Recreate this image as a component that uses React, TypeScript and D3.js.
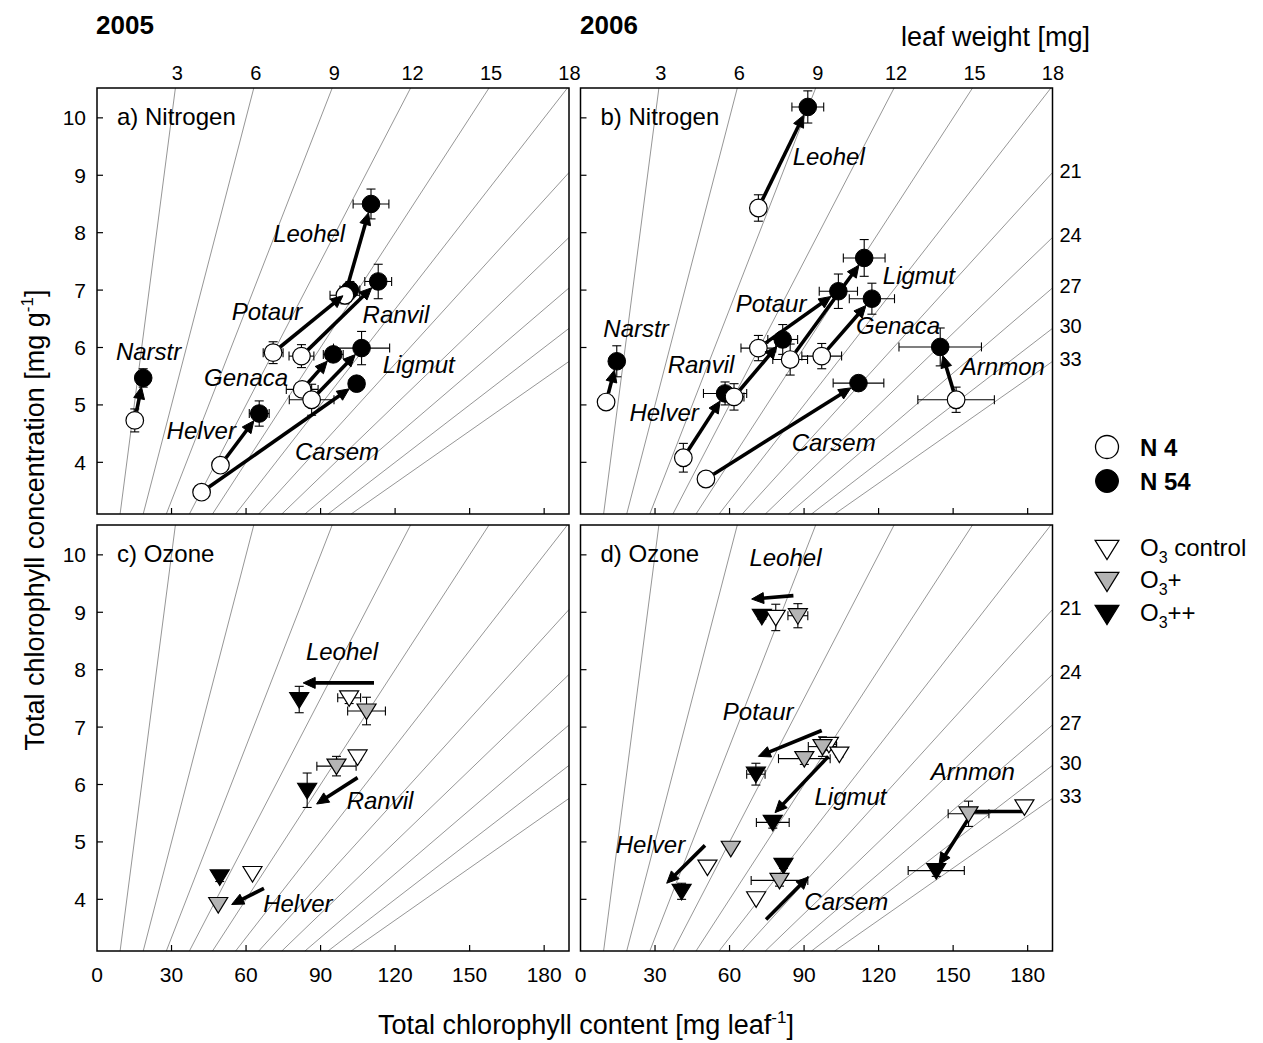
import * as d3 from "d3";

const WIDTH = 1263;
const HEIGHT = 1043;
const PANEL_W = 472;
const PANEL_H = 426;
const FONT = "'Liberation Sans', Arial, sans-serif";

const X_DOMAIN = [0, 190];
const Y_DOMAIN = [3.1, 10.52];

// leaf weight isolines: content = weight * concentration
const weightLines = [3, 6, 9, 12, 15, 18, 21, 24, 27, 30, 33];
const topWeightLabels = [3, 6, 9, 12, 15, 18];
const rightWeightLabels = [21, 24, 27, 30, 33];
const xTicks = [0, 30, 60, 90, 120, 150, 180];
const yTicks = [4, 5, 6, 7, 8, 9, 10];

// nitrogen: [x, y, errX, errY] for N 4 and N 54
const nitrogen2005 = [
  { sp: "Narstr", n4: [15.2, 4.73, 0, 0.2], n54: [18.6, 5.47, 0, 0.16] },
  { sp: "Leohel", n4: [99.8, 6.91, 6, 0.15], n54: [110.3, 8.5, 7.2, 0.26] },
  { sp: "Potaur", n4: [70.9, 5.91, 4, 0.19], n54: [101.8, 7.0, 4, 0.15] },
  { sp: "Ranvil", n4: [82.3, 5.85, 5, 0.2], n54: [113.2, 7.15, 5.4, 0.3] },
  { sp: "Genaca", n4: [82.6, 5.27, 6.4, 0.1], n54: [95.1, 5.88, 4, 0.12] },
  { sp: "Ligmut", n4: [86.4, 5.09, 9, 0.27], n54: [106.5, 5.99, 11.3, 0.29] },
  { sp: "Helver", n4: [49.7, 3.95, 3, 0.05], n54: [65.3, 4.85, 4, 0.22] },
  { sp: "Carsem", n4: [42.1, 3.48, 1, 0.03], n54: [104.5, 5.37, 3, 0.1] },
];

const nitrogen2006 = [
  { sp: "Leohel", n4: [71.6, 8.43, 1, 0.23], n54: [91.5, 10.19, 6.4, 0.28] },
  { sp: "Narstr", n4: [10.3, 5.05, 0, 0.05], n54: [14.6, 5.76, 0, 0.27] },
  { sp: "Potaur", n4: [71.6, 5.99, 7, 0.22], n54: [103.8, 6.98, 7.7, 0.3] },
  { sp: "Ligmut", n4: [84.4, 5.79, 7, 0.27], n54: [114.2, 7.56, 8.4, 0.32] },
  { sp: "Ranvil", n4: [61.8, 5.14, 4, 0.23], n54: [81.4, 6.14, 6, 0.26] },
  { sp: "Genaca", n4: [97.1, 5.85, 8, 0.22], n54: [117.3, 6.85, 9.1, 0.27] },
  { sp: "Helver", n4: [41.4, 4.08, 1, 0.25], n54: [58.2, 5.2, 8.7, 0.2] },
  { sp: "Carsem", n4: [50.5, 3.71, 1.5, 0.05], n54: [111.9, 5.38, 10.2, 0.1] },
  { sp: "Arnmon", n4: [151.2, 5.09, 15.4, 0.22], n54: [144.8, 6.01, 16.6, 0.33] },
];

// ozone: [x, y, errX, errY] for control, O3+, O3++
const ozone2005 = [
  { sp: "Leohel", ctrl: [101.5, 7.51, 4.6, 0.1], plus: [108.5, 7.28, 7.6, 0.24], pp: [81.4, 7.48, 0, 0.23] },
  { sp: "Ranvil", ctrl: [104.9, 6.48, 0, 0.05], plus: [96.4, 6.32, 7.9, 0.17], pp: [84.6, 5.9, 0, 0.3] },
  { sp: "Helver", ctrl: [62.6, 4.45, 1, 0.03], plus: [48.8, 3.91, 0, 0], pp: [49.4, 4.39, 0, 0.08] },
];

const ozone2006 = [
  { sp: "Leohel", ctrl: [78.6, 8.91, 0, 0.23], plus: [87.5, 8.94, 4, 0.21], pp: [73.0, 8.93, 0, 0.05] },
  { sp: "Potaur", ctrl: [100.0, 6.7, 3, 0.1], plus: [97.4, 6.66, 5.7, 0.17], pp: [70.6, 6.18, 3.7, 0.19] },
  { sp: "Ligmut", ctrl: [104.2, 6.53, 1, 0.05], plus: [90.1, 6.45, 10.4, 0.1], pp: [77.4, 5.34, 6.6, 0.1] },
  { sp: "Helver", ctrl: [51.1, 4.56, 0, 0.03], plus: [60.5, 4.89, 0, 0], pp: [40.7, 4.14, 0, 0.14] },
  { sp: "Carsem", ctrl: [70.7, 4.01, 0, 0.03], plus: [80.1, 4.33, 11.4, 0.1], pp: [81.7, 4.59, 0, 0.05] },
  { sp: "Arnmon", ctrl: [178.7, 5.61, 1, 0.03], plus: [156.2, 5.49, 8.2, 0.22], pp: [143.2, 4.5, 11.3, 0.1] },
];

// ozone annotation arrows (data coords, last point is the tip)
const ozoneArrows2005 = [
  [[111.5, 7.77], [83.0, 7.77]],
  [[104.9, 6.12], [88.4, 5.66]],
  [[67.2, 4.19], [54.2, 3.91]],
];
const ozoneArrows2006 = [
  [[85.7, 9.29], [68.9, 9.23]],
  [[97.1, 6.94], [71.6, 6.49]],
  [[99.8, 6.49], [78.3, 5.51]],
  [[50.1, 4.94], [34.7, 4.28]],
  [[74.7, 3.65], [91.7, 4.39]],
  [[178.5, 5.53], [158.0, 5.53], [144.3, 4.6]],
];

// species labels: [name, x, y] (left edge / baseline, data units)
const labelsA = [
  ["Narstr", 7.6, 5.78], ["Leohel", 70.9, 7.84], ["Potaur", 54.2, 6.48], ["Ranvil", 106.9, 6.42],
  ["Genaca", 43.1, 5.33], ["Ligmut", 115.0, 5.56], ["Helver", 28.0, 4.41], ["Carsem", 79.7, 4.04],
];
const labelsB = [
  ["Leohel", 85.4, 9.18], ["Narstr", 9.2, 6.18], ["Potaur", 62.5, 6.62], ["Ligmut", 121.7, 7.1],
  ["Genaca", 110.9, 6.24], ["Ranvil", 35.1, 5.55], ["Helver", 19.7, 4.72], ["Arnmon", 153.1, 5.52],
  ["Carsem", 85.0, 4.2],
];
const labelsC = [["Leohel", 84.1, 8.16], ["Ranvil", 100.5, 5.58], ["Helver", 66.9, 3.78]];
const labelsD = [
  ["Leohel", 68.0, 9.8], ["Potaur", 57.3, 7.12], ["Ligmut", 94.2, 5.65], ["Arnmon", 141.0, 6.08],
  ["Helver", 14.2, 4.8], ["Carsem", 90.1, 3.82],
];

const GRAY = "#b4b4b4";
const TRI = "M-9.5,-7L9.5,-7L0,8.5Z";

const x = d3.scaleLinear().domain(X_DOMAIN).range([0, PANEL_W]);
const y = d3.scaleLinear().domain(Y_DOMAIN).range([PANEL_H, 0]);
const line = d3.line();

function arrow(pts, key, shortenStart = 0, shortenEnd = 0) {
  const p = pts.map((d) => [x(d[0]), y(d[1])]);
  const n = p.length;
  // optional shortening (nitrogen arrows stop at circle edges)
  const s0 = p[0], s1 = p[1];
  const l0 = Math.hypot(s1[0] - s0[0], s1[1] - s0[1]);
  p[0] = [s0[0] + ((s1[0] - s0[0]) / l0) * shortenStart, s0[1] + ((s1[1] - s0[1]) / l0) * shortenStart];
  const a = p[n - 2], b = p[n - 1];
  const len = Math.hypot(b[0] - a[0], b[1] - a[1]);
  const ux = (b[0] - a[0]) / len, uy = (b[1] - a[1]) / len;
  const tip = [b[0] - ux * shortenEnd, b[1] - uy * shortenEnd];
  const headLen = 12, headW = 5.5;
  const base = [tip[0] - ux * headLen, tip[1] - uy * headLen];
  const shaft = [...p.slice(0, n - 1), [base[0] + ux * 2, base[1] + uy * 2]];
  const head = [tip, [base[0] - uy * headW, base[1] + ux * headW], [base[0] + uy * headW, base[1] - ux * headW]];
  return (
    <g key={key}>
      <path d={line(shaft)} fill="none" stroke="#000" strokeWidth={3.6} strokeLinejoin="round" />
      <path d={line(head) + "Z"} fill="#000" stroke="#000" strokeWidth={1} strokeLinejoin="miter" />
    </g>
  );
}

function errorBars(v, key) {
  const [vx, vy, ex, ey] = v;
  const cx = x(vx), cy = y(vy);
  const c = 4.5;
  return (
    <g key={key} stroke="#000" strokeWidth={1.1}>
      {ex > 0 && (
        <>
          <line x1={x(vx - ex)} x2={x(vx + ex)} y1={cy} y2={cy} />
          <line x1={x(vx - ex)} x2={x(vx - ex)} y1={cy - c} y2={cy + c} />
          <line x1={x(vx + ex)} x2={x(vx + ex)} y1={cy - c} y2={cy + c} />
        </>
      )}
      {ey > 0 && (
        <>
          <line x1={cx} x2={cx} y1={y(vy - ey)} y2={y(vy + ey)} />
          <line x1={cx - c} x2={cx + c} y1={y(vy - ey)} y2={y(vy - ey)} />
          <line x1={cx - c} x2={cx + c} y1={y(vy + ey)} y2={y(vy + ey)} />
        </>
      )}
    </g>
  );
}

function Panel({ left, top, title, yLabels, xLabels, topLabels, rightLabels, children, labels }) {
  const [x0, x1] = X_DOMAIN;
  const [y0, y1] = Y_DOMAIN;
  return (
    <g transform={`translate(${left},${top})`}>
      {weightLines.map((w) => {
        const end = w * y1 <= x1 ? [w * y1, y1] : [x1, x1 / w];
        return (
          <line key={w} x1={x(w * y0)} y1={y(y0)} x2={x(end[0])} y2={y(end[1])} stroke="#8a8a8a" strokeWidth={0.9} />
        );
      })}
      {topLabels &&
        topWeightLabels.map((w) => (
          <text key={w} x={x(w * y1) + 2} y={-8} textAnchor="middle" fontSize={20}>
            {w}
          </text>
        ))}
      {rightLabels &&
        rightWeightLabels.map((w) => (
          <text key={w} x={PANEL_W + 7} y={y(x1 / w) - 2} dy="0.35em" fontSize={20}>
            {w}
          </text>
        ))}
      {yTicks.map((t) => (
        <line key={t} x1={0} x2={6} y1={y(t)} y2={y(t)} stroke="#000" strokeWidth={1.2} />
      ))}
      {xTicks.slice(1).map((t) => (
        <line key={t} x1={x(t)} x2={x(t)} y1={PANEL_H} y2={PANEL_H - 6} stroke="#000" strokeWidth={1.2} />
      ))}
      {yLabels &&
        yTicks.map((t) => (
          <text key={t} x={-11} y={y(t)} dy="0.36em" textAnchor="end" fontSize={21}>
            {t}
          </text>
        ))}
      {xLabels &&
        xTicks.map((t) => (
          <text key={t} x={x(t)} y={PANEL_H + 31} textAnchor="middle" fontSize={21}>
            {t}
          </text>
        ))}
      {children}
      {labels.map(([name, lx, ly]) => (
        <text key={name} x={x(lx)} y={y(ly)} fontSize={24} fontStyle="italic">
          {name}
        </text>
      ))}
      <text x={20} y={37} fontSize={24}>
        {title}
      </text>
      <rect x={0} y={0} width={PANEL_W} height={PANEL_H} fill="none" stroke="#000" strokeWidth={1.5} />
    </g>
  );
}

function NitrogenMarks({ rows }) {
  return (
    <g>
      {rows.map((r) => errorBars(r.n54, r.sp + "e54"))}
      {rows.map((r) => errorBars(r.n4, r.sp + "e4"))}
      {rows.map((r) => (
        <circle key={r.sp + "c54"} cx={x(r.n54[0])} cy={y(r.n54[1])} r={8.8} fill="#000" stroke="#000" />
      ))}
      {rows.map((r) => (
        <circle key={r.sp + "c4"} cx={x(r.n4[0])} cy={y(r.n4[1])} r={8.8} fill="#fff" stroke="#000" strokeWidth={1.2} />
      ))}
      {rows.map((r) => arrow([r.n4, r.n54], r.sp + "a", 9, 9))}
    </g>
  );
}

function OzoneMarks({ rows, arrows }) {
  const tri = (v, fill, key) => (
    <path key={key} d={TRI} transform={`translate(${x(v[0])},${y(v[1])})`} fill={fill} stroke="#000" strokeWidth={1.2} />
  );
  return (
    <g>
      {arrows.map((a, i) => arrow(a, "oa" + i))}
      {rows.map((r) => errorBars(r.pp, r.sp + "epp"))}
      {rows.map((r) => errorBars(r.ctrl, r.sp + "ec"))}
      {rows.map((r) => errorBars(r.plus, r.sp + "ep"))}
      {rows.map((r) => tri(r.pp, "#000", r.sp + "pp"))}
      {rows.map((r) => tri(r.ctrl, "#fff", r.sp + "c"))}
      {rows.map((r) => tri(r.plus, GRAY, r.sp + "p"))}
    </g>
  );
}

function O3({ x: tx, y: ty, suffix }) {
  return (
    <text x={tx} y={ty} fontSize={24}>
      O<tspan dy={7} fontSize={16}>3</tspan>
      <tspan dy={-7}>{suffix}</tspan>
    </text>
  );
}

export default function App() {
  return (
    <svg
      width={WIDTH}
      height={HEIGHT}
      style={{ position: "absolute", left: 0, top: 0, background: "#fff" }}
      fontFamily={FONT}
    >
      <rect width={WIDTH} height={HEIGHT} fill="#fff" />
      <text x={96} y={34} fontSize={26} fontWeight="bold">2005</text>
      <text x={580} y={34} fontSize={26} fontWeight="bold">2006</text>
      <text x={1090} y={46} fontSize={27} textAnchor="end">leaf weight [mg]</text>

      <Panel left={97} top={88} title="a) Nitrogen" yLabels topLabels labels={labelsA}>
        <NitrogenMarks rows={nitrogen2005} />
      </Panel>
      <Panel left={580.5} top={88} title="b) Nitrogen" topLabels rightLabels labels={labelsB}>
        <NitrogenMarks rows={nitrogen2006} />
      </Panel>
      <Panel left={97} top={525} title="c) Ozone" yLabels xLabels labels={labelsC}>
        <OzoneMarks rows={ozone2005} arrows={ozoneArrows2005} />
      </Panel>
      <Panel left={580.5} top={525} title="d) Ozone" xLabels rightLabels labels={labelsD}>
        <OzoneMarks rows={ozone2006} arrows={ozoneArrows2006} />
      </Panel>

      <text transform="translate(44,520) rotate(-90)" textAnchor="middle" fontSize={27}>
        Total chlorophyll concentration [mg g<tspan dy={-11} fontSize={17}>-1</tspan>
        <tspan dy={11}>]</tspan>
      </text>
      <text x={586} y={1034} textAnchor="middle" fontSize={27}>
        Total chlorophyll content [mg leaf<tspan dy={-11} fontSize={17}>-1</tspan>
        <tspan dy={11}>]</tspan>
      </text>

      {/* legend */}
      <circle cx={1107} cy={447} r={11.5} fill="#fff" stroke="#000" strokeWidth={1.3} />
      <circle cx={1107} cy={481} r={11.5} fill="#000" stroke="#000" />
      <text x={1140} y={456} fontSize={24} fontWeight="bold">N 4</text>
      <text x={1140} y={490} fontSize={24} fontWeight="bold">N 54</text>
      <path d={TRI} transform="translate(1107,549) scale(1.25)" fill="#fff" stroke="#000" strokeWidth={1} />
      <path d={TRI} transform="translate(1107,581) scale(1.25)" fill={GRAY} stroke="#000" strokeWidth={1} />
      <path d={TRI} transform="translate(1107,614) scale(1.25)" fill="#000" stroke="#000" strokeWidth={1} />
      <O3 x={1140} y={556} suffix=" control" />
      <O3 x={1140} y={588} suffix="+" />
      <O3 x={1140} y={621} suffix="++" />
    </svg>
  );
}
